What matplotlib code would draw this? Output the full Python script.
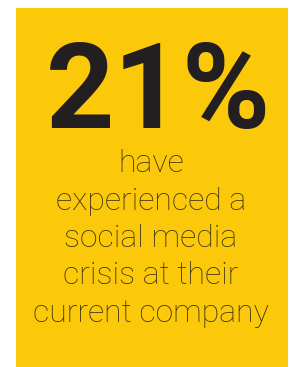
import matplotlib
matplotlib.use('Agg')
import matplotlib.pyplot as plt
from matplotlib.patches import Rectangle

# Content
stat_value = "21%"
caption_lines = ["have", "experienced a", "social media", "crisis at their", "current company"]

W, H = 296, 367
fig = plt.figure(figsize=(W / 100, H / 100), dpi=100)
ax = fig.add_axes([0, 0, 1, 1])
ax.set_xlim(0, W)
ax.set_ylim(H, 0)
ax.axis('off')

# yellow panel
ax.add_patch(Rectangle((16, 8), 272, 360, facecolor='#FBC90A', edgecolor='none'))

ax.text(158, 128, stat_value, ha='center', va='baseline',
        fontsize=86, fontweight='bold', family='Roboto', color='#231F20')

baselines = [172, 209.5, 247, 284.5, 322]
for line, y in zip(caption_lines, baselines):
    ax.text(151, y, line, ha='center', va='baseline', fontsize=23,
            fontweight='light', family='Roboto', color='#3E3410')

fig.savefig('out.png', dpi=100, facecolor='white')
plt.close(fig)
